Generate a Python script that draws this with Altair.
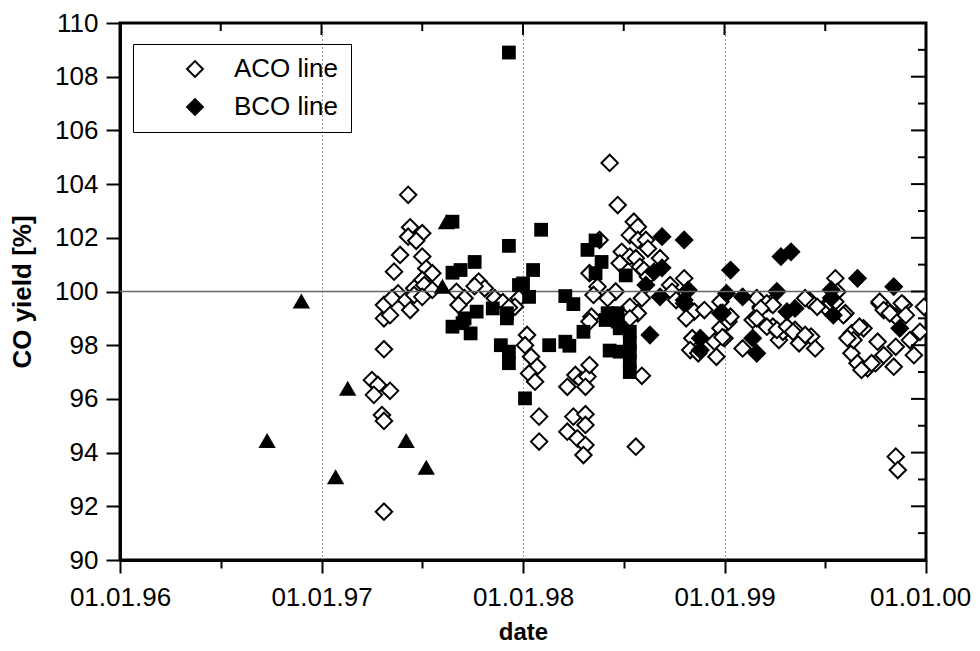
import altair as alt
import pandas as pd

FONT = "Liberation Sans"

# ---------------- data (decimal year, CO yield %) ----------------
aco_year = [
    1997.31, 1997.31, 1997.25, 1997.28, 1997.34, 1997.26, 1997.30, 1997.31, 1997.31,
    1997.43, 1997.44, 1997.50, 1997.43, 1997.47, 1997.39, 1997.50, 1997.36, 1997.52,
    1997.55, 1997.50, 1997.38, 1997.46, 1997.51, 1997.55, 1997.31, 1997.35, 1997.42,
    1997.46, 1997.34, 1997.44, 1997.50,
    1997.67, 1997.71, 1997.68, 1997.78, 1997.81, 1997.86, 1997.98, 1997.96, 1997.76,
    1997.90, 1997.93,
    1998.02, 1998.01, 1998.04, 1998.07, 1998.03, 1998.06, 1998.22, 1998.26, 1998.29,
    1998.32, 1998.33, 1998.31, 1998.08, 1998.08, 1998.22, 1998.25, 1998.31, 1998.31,
    1998.27, 1998.31, 1998.30, 1998.56, 1998.59, 1998.34, 1998.33,
    1998.43, 1998.47, 1998.55, 1998.57, 1998.53, 1998.57, 1998.61, 1998.62, 1998.38,
    1998.49, 1998.53, 1998.56, 1998.68, 1998.48, 1998.58, 1998.60, 1998.33, 1998.80,
    1998.62, 1998.73, 1998.37, 1998.46, 1998.35, 1998.42, 1998.59, 1998.74, 1998.76,
    1998.53, 1998.57, 1998.85, 1998.90, 1998.98,
    1998.53, 1998.84, 1998.83, 1998.87, 1998.95, 1998.96, 1998.98, 1999.00, 1999.02,
    1998.81, 1998.99,
    1999.03, 1999.09, 1999.14, 1999.18, 1999.23, 1999.24, 1999.27, 1999.29, 1999.35,
    1999.37, 1999.43, 1999.45, 1999.42, 1999.50, 1999.53, 1999.60, 1999.63, 1999.63,
    1999.66, 1999.69, 1999.64, 1999.71, 1999.75, 1999.76, 1999.79, 1999.84, 1999.85,
    1999.77, 1999.81, 1999.85, 1999.89, 1999.92, 1999.94, 1999.99, 1999.85, 1999.86,
    1999.16, 1999.21, 1999.24, 1999.18, 1999.16, 1999.40, 1999.55, 1999.56, 1999.46,
    1999.55, 1999.59, 1999.77, 1999.79, 1999.82, 1999.88, 1999.90, 1999.21, 1999.26,
    1999.31, 1999.34, 1999.40, 1999.67, 1999.61, 1999.68, 1999.73, 1999.97,
]
aco_yield = [
    99.0, 97.85, 96.7, 96.52, 96.3, 96.15, 95.4, 95.18, 91.8,
    103.6, 102.39, 102.17, 102.04, 101.89, 101.36, 101.3, 100.74, 100.86,
    100.68, 100.43, 99.93, 100.12, 100.24, 100.06, 99.5, 99.75, 99.68,
    99.87, 99.12, 99.31, 99.8,
    99.99, 99.75, 99.5, 100.37, 100.12, 99.75, 99.75, 99.43, 100.2,
    99.6, 99.4,
    98.38, 98.0, 97.57, 97.2, 96.95, 96.64, 96.45, 96.89, 96.7,
    96.83, 97.26, 96.45, 95.34, 94.41, 94.78, 95.34, 95.43, 95.03,
    94.53, 94.28, 93.91, 94.22, 96.86, 99.06, 98.88,
    104.79, 103.22, 102.6, 102.41, 102.1, 101.92, 101.92, 101.6, 101.92,
    101.48, 101.3, 101.24, 101.24, 101.05, 100.92, 100.8, 100.68, 100.49,
    100.55, 100.24, 100.18, 100.0, 99.87, 99.75, 99.75, 99.99, 99.68,
    99.43, 99.19, 99.25, 99.31, 99.62,
    99.0, 98.26, 97.82, 97.7, 98.13, 97.57, 98.63, 98.26, 98.88,
    99.0, 98.3,
    99.06, 97.88, 98.94, 99.43, 99.56, 98.69, 98.19, 98.5, 98.57,
    98.07, 98.32, 97.88, 99.68, 99.43, 99.56, 99.19, 98.44, 97.7,
    97.33, 98.63, 98.19, 97.14, 97.33, 98.13, 97.63, 97.2, 97.94,
    99.56, 99.31, 99.06, 99.5, 98.19, 97.63, 99.43, 93.85, 93.35,
    99.75, 99.56, 99.5, 99.37, 99.0, 99.75, 100.49, 99.99, 99.43,
    99.62, 99.12, 99.62, 99.31, 99.19, 99.56, 99.12, 98.69, 98.57,
    98.69, 98.5, 98.38, 98.69, 98.26, 97.08, 97.33, 98.5,
]

bco_year = [
    1998.69, 1998.80, 1999.03, 1999.28, 1999.33, 1999.66, 1999.84, 1999.01, 1999.09,
    1999.26, 1999.53, 1999.53, 1998.99, 1999.31, 1999.35, 1998.65, 1998.69, 1998.61,
    1998.68, 1998.82, 1998.80, 1998.63, 1998.98, 1998.88, 1998.88, 1999.14, 1999.16,
    1999.54, 1999.87, 1998.80,
]
bco_yield = [
    102.04, 101.92, 100.8, 101.3, 101.48, 100.49, 100.18, 99.93, 99.8,
    100.0, 100.06, 99.76, 99.2, 99.25, 99.37, 100.73, 100.88, 100.24,
    99.8, 100.06, 99.68, 98.38, 99.19, 98.26, 97.82, 98.26, 97.7,
    99.12, 98.63, 99.56,
]

sq_year = [
    1997.93, 1997.65, 1997.93, 1997.76, 1998.09, 1998.05, 1997.69, 1997.65, 1997.98,
    1997.77, 1997.85, 1997.92, 1997.71, 1998.00, 1998.03, 1998.21, 1998.25, 1998.36,
    1998.32, 1998.39, 1998.36, 1998.51, 1998.42, 1998.47, 1998.41, 1998.47, 1998.48,
    1998.30, 1998.13, 1998.21, 1998.23, 1998.01, 1998.53, 1998.43, 1998.48, 1998.53,
    1998.53, 1998.53, 1998.53, 1997.65, 1997.70, 1997.74, 1997.89, 1997.93, 1997.93,
    1997.92,
]
sq_yield = [
    108.9, 102.6, 101.7, 101.1, 102.3, 100.8, 100.8, 100.7, 100.24,
    99.25, 99.37, 99.19, 99.0, 100.3, 99.8, 99.83, 99.53, 101.9,
    101.55, 101.1, 100.68, 100.6, 99.19, 99.19, 98.94, 98.88, 98.63,
    98.5, 98.0, 98.13, 97.98, 96.02, 98.5, 97.8, 97.76, 97.76,
    97.4, 97.0, 98.1, 98.69, 98.82, 98.44, 98.0, 97.76, 97.33,
    99.0,
]

tri_year = [1996.73, 1996.90, 1997.07, 1997.13, 1997.42, 1997.52, 1997.60, 1997.62]
tri_yield = [94.45, 99.65, 93.1, 96.4, 94.45, 93.45, 100.2, 102.6]

series_names = ["ACO line", "BCO line"]
reference_yield = 100

x_major = [1996, 1997, 1998, 1999, 2000]
x_minor = [1996.5, 1997.5, 1998.5, 1999.5]
x_all = [1996, 1996.5, 1997, 1997.5, 1998, 1998.5, 1999, 1999.5, 2000]
y_all = list(range(90, 111))
y_major = [90, 92, 94, 96, 98, 100, 102, 104, 106, 108, 110]
y_minor = [91, 93, 95, 97, 99, 101, 103, 105, 107, 109]

W, H = 806, 537

# ---------------- tables ----------------
df_d = pd.concat([
    pd.DataFrame({"year": aco_year, "yield": aco_yield, "line": series_names[0]}),
    pd.DataFrame({"year": bco_year, "yield": bco_yield, "line": series_names[1]}),
], ignore_index=True)
df_sq = pd.DataFrame({"year": sq_year, "yield": sq_yield})
df_tri = pd.DataFrame({"year": tri_year, "yield": tri_yield})

xs = alt.Scale(domain=[1996, 2000], nice=False, zero=False)
ys = alt.Scale(domain=[90, 110], nice=False, zero=False)

common = dict(labelFont=FONT, titleFont=FONT, labelColor="black", titleColor="black",
              tickColor="black", tickWidth=2)

bottom_axis = alt.Axis(
    orient="bottom", values=x_all,
    labelExpr="datum.value % 1 === 0 ? '01.01.' + slice(toString(datum.value), 2) : ''",
    labelFlush=False, labelOverlap=False, labelFontSize=26, labelPadding=11,
    labelOffset={"condition": {"test": "datum.value === 2000", "value": -6}, "value": 0},
    tickSize={"condition": {"test": "datum.value % 1 === 0", "value": 13}, "value": 8},
    domainColor="black", domainWidth=3,
    grid=True, gridDash=[1, 3], gridColor="#333333", gridWidth=1,
    gridOpacity={"condition": {"test": "datum.value % 1 === 0 && datum.value > 1996 && datum.value < 2000", "value": 1}, "value": 0},
    title="date", titleFontSize=24, titleFontWeight="bold", titlePadding=10,
    **common)

left_axis = alt.Axis(
    orient="left", values=y_all,
    labelExpr="datum.value % 2 === 0 ? datum.label : ''",
    labelOverlap=False, labelFontSize=26, labelPadding=8,
    tickSize={"condition": {"test": "datum.value % 2 === 0", "value": 14}, "value": 7},
    domainColor="black", domainWidth=3, grid=False,
    title="CO yield [%]", titleFontSize=26, titleFontWeight="bold", titlePadding=19,
    **common)

legend = alt.Legend(
    title=None, orient="none", legendX=13, legendY=21, direction="vertical",
    strokeColor="black", padding=12,
    symbolType="diamond", symbolSize=250, symbolStrokeWidth=2, symbolStrokeColor="black",
    symbolOffset=37, labelOffset=26, labelFontSize=26, labelFont=FONT, labelColor="black",
    rowPadding=12, labelExpr="datum.label + '\u00a0\u00a0\u00a0'")

# horizontal reference line at 100 %
rule = alt.Chart(pd.DataFrame({"v": [reference_yield]})).mark_rule(
    color="#666666", strokeWidth=1.3).encode(
    y=alt.Y("v:Q", scale=ys))

# inward ticks on the top and right frame edges (positions through the scales)
right_major = alt.Chart(pd.DataFrame({"v": y_major})).mark_rule(
    color="black", strokeWidth=2).encode(
    y=alt.Y("v:Q", scale=ys), x=alt.value(W - 15), x2=alt.value(W))
right_minor = alt.Chart(pd.DataFrame({"v": y_minor})).mark_rule(
    color="black", strokeWidth=2).encode(
    y=alt.Y("v:Q", scale=ys), x=alt.value(W - 8), x2=alt.value(W))
top_major = alt.Chart(pd.DataFrame({"year": x_major})).mark_rule(
    color="black", strokeWidth=2).encode(
    x=alt.X("year:Q", scale=xs), y=alt.value(0), y2=alt.value(12))
top_minor = alt.Chart(pd.DataFrame({"year": x_minor})).mark_rule(
    color="black", strokeWidth=2).encode(
    x=alt.X("year:Q", scale=xs), y=alt.value(0), y2=alt.value(8))

squares = alt.Chart(df_sq).mark_square(size=190, color="black", opacity=1, clip=True).encode(
    x=alt.X("year:Q", scale=xs),
    y=alt.Y("yield:Q", scale=ys))

tris = alt.Chart(df_tri).mark_point(shape="triangle-up", filled=True, color="black",
                                    size=300, opacity=1, clip=True).encode(
    x=alt.X("year:Q", scale=xs),
    y=alt.Y("yield:Q", scale=ys))

diam = alt.Chart(df_d).mark_point(shape="diamond", filled=True, stroke="black",
                                  strokeWidth=2, opacity=1, size=270, clip=True).encode(
    x=alt.X("year:Q", scale=xs, axis=bottom_axis),
    y=alt.Y("yield:Q", scale=ys, axis=left_axis),
    fill=alt.Fill("line:N", scale=alt.Scale(domain=series_names, range=["white", "black"]),
                  legend=legend))

chart = alt.layer(diam, rule, squares, tris, top_major, top_minor, right_major, right_minor).properties(
    width=W, height=H,
    autosize=alt.AutoSizeParams(type="none"),
    padding={"left": 112, "top": 15, "right": 46, "bottom": 83},
).configure(font=FONT).configure_view(stroke="black", strokeWidth=3)

chart.save("out.html", embed_options={"renderer": "svg", "actions": False})
